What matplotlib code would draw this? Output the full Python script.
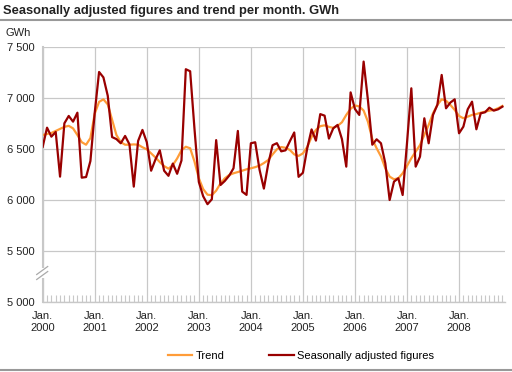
import matplotlib
matplotlib.use('Agg')
import matplotlib.pyplot as plt
from matplotlib.lines import Line2D
from matplotlib.patches import Rectangle
import numpy as np

plt.rcParams['font.family'] = ['Liberation Sans', 'DejaVu Sans']

# Monthly values, Jan 2000 - Nov 2008 (GWh)
seasonal = [
    6525, 6712, 6624, 6670, 6232, 6755, 6827, 6771, 6859, 6222, 6228, 6385,  # 2000
    6860, 7258, 7205, 7025, 6620, 6600, 6559, 6631, 6549, 6134, 6582, 6690,  # 2001
    6570, 6290, 6400, 6490, 6290, 6240, 6360, 6260, 6390, 7285, 7265, 6700,  # 2002
    6180, 6040, 5962, 6010, 6590, 6150, 6190, 6242, 6314, 6680, 6085, 6053,  # 2003
    6559, 6569, 6300, 6115, 6355, 6540, 6560, 6480, 6490, 6580, 6665, 6230,  # 2004
    6270, 6510, 6695, 6585, 6845, 6830, 6605, 6706, 6739, 6600, 6330, 7058,  # 2005
    6895, 6837, 7360, 6980, 6545, 6598, 6559, 6363, 6003, 6183, 6216, 6052,  # 2006
    6560, 7098, 6330, 6428, 6804, 6559, 6837, 6935, 7229, 6902, 6958, 6990,  # 2007
    6657, 6722, 6892, 6967, 6696, 6853, 6863, 6908, 6879, 6892, 6918,        # 2008
]
trend = [
    6640, 6650, 6660, 6680, 6700, 6720, 6730, 6705, 6640, 6570, 6545, 6610,
    6850, 6965, 6990, 6940, 6790, 6640, 6570, 6545, 6545, 6548, 6545, 6520,
    6500, 6460, 6420, 6375, 6335, 6310, 6345, 6410, 6490, 6525, 6510, 6380,
    6216, 6110, 6055, 6050, 6095, 6165, 6216, 6248, 6265, 6277, 6290, 6304,
    6314, 6325, 6340, 6365, 6395, 6450, 6500, 6522, 6515, 6493, 6450, 6435,
    6460, 6523, 6620, 6690, 6727, 6735, 6720, 6710, 6730, 6765, 6837, 6897,
    6930, 6920, 6880, 6770, 6600, 6510, 6430, 6314, 6232, 6206, 6216, 6265,
    6337, 6412, 6477, 6542, 6641, 6739, 6853, 6935, 6990, 6977, 6935, 6886,
    6827, 6804, 6820, 6837, 6846, 6859, 6869, 6879, 6886, 6902, 6925,
]
years = ['2000', '2001', '2002', '2003', '2004', '2005', '2006', '2007', '2008']
y_ticks = [5000, 5500, 6000, 6500, 7000, 7500]
y_labels = ['5 000', '5 500', '6 000', '6 500', '7 000', '7 500']

W, H = 512, 372
fig = plt.figure(figsize=(W / 100, H / 100), dpi=100)
ax = fig.add_axes([42.7 / W, 1 - 302.3 / H, (505 - 42.7) / W, (302.3 - 47.3) / H])

months = np.arange(len(seasonal))
ax.plot(months, trend, color='#ff9c38', lw=1.6, label='Trend', zorder=3)
ax.plot(months, seasonal, color='#990000', lw=1.6, label='Seasonally adjusted figures', zorder=4)

ax.set_xlim(0, 106.6)
ax.set_ylim(5000, 7500)

grid_c = '#c8c8c8'
ax.set_yticks(y_ticks)
ax.set_yticklabels(y_labels)
ax.set_xticks(np.arange(0, 12 * len(years), 12))
ax.set_xticklabels(['Jan.\n' + y for y in years], linespacing=1.35)
ax.set_xticks(np.arange(0, 107), minor=True)
ax.tick_params(axis='both', which='major', length=0, labelsize=8, colors='#222222')
ax.tick_params(axis='y', pad=6)
ax.tick_params(axis='x', pad=6)
ax.tick_params(axis='x', which='minor', direction='in', length=5, color=grid_c, width=0.8)
ax.grid(True, which='major', color=grid_c, lw=0.9)
ax.set_axisbelow(True)
for s in ['top', 'right']:
    ax.spines[s].set_visible(False)
ax.spines['left'].set_color(grid_c)
ax.spines['left'].set_linewidth(1.5)
ax.spines['bottom'].set_color(grid_c)
ax.spines['bottom'].set_linewidth(1.0)

# axis break marker on the y axis
aw = 505 - 42.7
ah = 302.3 - 47.3
yb = (302.3 - 273) / ah
ax.add_patch(Rectangle((-4 / aw, yb - 5 / ah), 8 / aw, 10 / ah, transform=ax.transAxes,
                       facecolor='white', edgecolor='none', clip_on=False, zorder=5))
for dy in (-2.5, 2.5):
    ax.plot([-6 / aw, 5 / aw], [yb + (dy - 4) / ah, yb + (dy + 4) / ah], transform=ax.transAxes,
            color='#aaaaaa', lw=0.9, clip_on=False, zorder=6)

fig.text(5 / W, 1 - 33 / H, 'GWh', fontsize=8, color='#222222', va='center', ha='left')
fig.text(3 / W, 1 - 11 / H, 'Seasonally adjusted figures and trend per month. GWh',
         fontsize=9.3, fontweight='bold', color='#222222', va='center', ha='left')
fig.add_artist(Line2D([0, 1], [1 - 19.5 / H, 1 - 19.5 / H], color='#999999', lw=1.5))
fig.add_artist(Line2D([0, 1], [1 - 369.5 / H, 1 - 369.5 / H], color='#999999', lw=1.5))

fig.legend(loc='center', bbox_to_anchor=(301 / W, 1 - 356 / H), ncol=2, frameon=False,
           fontsize=8, handlelength=2.2, columnspacing=4.0, handletextpad=0.35)

fig.savefig('out.png', dpi=100)
